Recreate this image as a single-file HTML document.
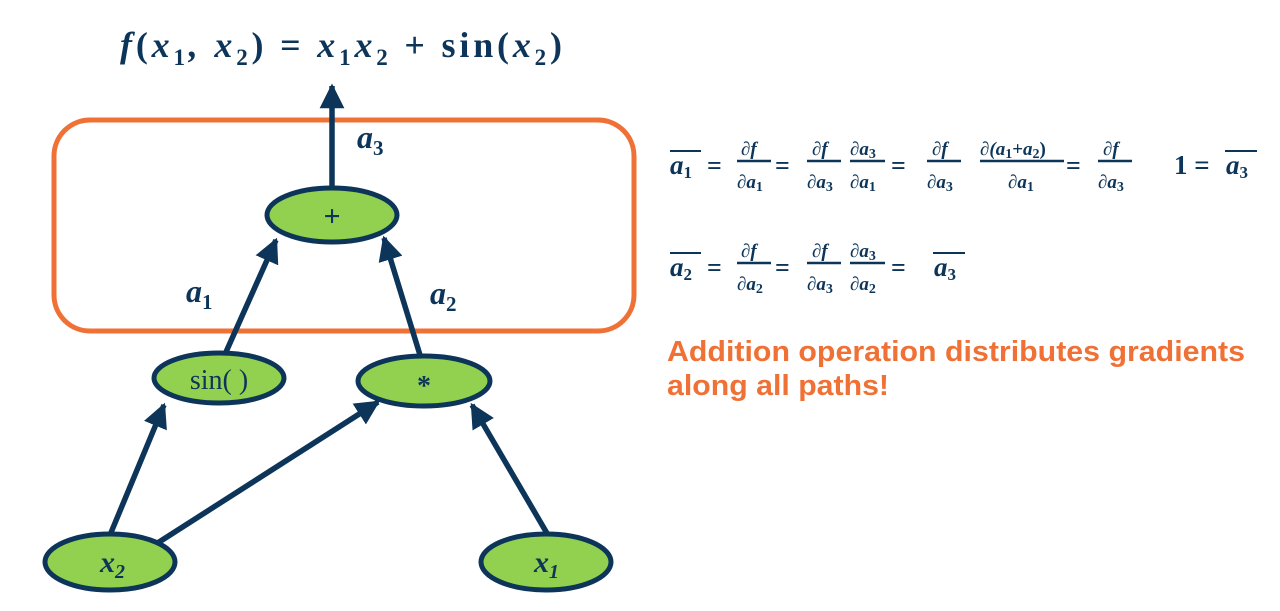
<!DOCTYPE html>
<html><head><meta charset="utf-8"><style>
body{margin:0;background:#fff;width:1280px;height:611px;overflow:hidden}
svg{display:block}
.m{font-family:"Liberation Serif",serif;font-style:italic;font-weight:bold;fill:#0C3559}
.n{font-family:"Liberation Serif",serif;font-weight:bold;fill:#0C3559}
</style></head><body>
<svg width="1280" height="611" viewBox="0 0 1280 611">
<defs>
<marker id="a" viewBox="0 0 10 10" refX="9" refY="5" markerWidth="4.5" markerHeight="4.5" orient="auto"><path d="M0,0 L10,5 L0,10 z" fill="#0C3559"/></marker></defs>
<text x="120" y="57" class="m" font-size="36" textLength="442" lengthAdjust="spacing">f<tspan class="n" font-style="normal">(</tspan>x<tspan font-size="23" dy="8" font-style="normal">1</tspan><tspan dy="-8">, x</tspan><tspan font-size="23" dy="8" font-style="normal">2</tspan><tspan dy="-8" font-style="normal">) = </tspan>x<tspan font-size="23" dy="8" font-style="normal">1</tspan><tspan dy="-8">x</tspan><tspan font-size="23" dy="8" font-style="normal">2</tspan><tspan dy="-8" font-style="normal"> + sin(</tspan>x<tspan font-size="23" dy="8" font-style="normal">2</tspan><tspan dy="-8" font-style="normal">)</tspan></text>
<rect x="54" y="120" width="580" height="211" rx="36" fill="none" stroke="#F07135" stroke-width="5"/>
<g stroke="#0C3559" stroke-width="5.5" fill="none" marker-end="url(#a)">
<line x1="332" y1="190" x2="332" y2="86"/>
<line x1="226" y1="352" x2="276" y2="240"/>
<line x1="420" y1="355" x2="384" y2="238"/>
<line x1="110" y1="535" x2="164" y2="405"/>
<line x1="156" y1="544" x2="378" y2="402"/>
<line x1="548" y1="535" x2="472" y2="405"/>
</g>
<g fill="#92D050" stroke="#0C3559" stroke-width="5">
<ellipse cx="332" cy="215" rx="65" ry="27"/>
<ellipse cx="219" cy="378" rx="65" ry="25"/>
<ellipse cx="424" cy="381" rx="66" ry="25"/>
<ellipse cx="110" cy="562" rx="65" ry="28"/>
<ellipse cx="546" cy="562" rx="65" ry="28"/>
</g>
<text x="332" y="226" class="n" font-size="30" text-anchor="middle" font-weight="normal">+</text>
<text x="219" y="389" font-family="Liberation Serif,serif" fill="#0C3559" font-size="28" text-anchor="middle">sin( )</text>
<text x="424" y="395" class="n" font-size="28" text-anchor="middle">*</text>
<text x="100" y="572" class="m" font-size="30" font-weight="normal">x<tspan font-size="20" dy="6">2</tspan></text>
<text x="534" y="572" class="m" font-size="30" font-weight="normal">x<tspan font-size="20" dy="6">1</tspan></text>
<text x="357" y="148" class="m" font-size="32">a<tspan font-size="21" dy="7" font-style="normal">3</tspan></text>
<text x="186" y="302" class="m" font-size="32">a<tspan font-size="21" dy="7" font-style="normal">1</tspan></text>
<text x="430" y="304" class="m" font-size="32">a<tspan font-size="21" dy="7" font-style="normal">2</tspan></text>
<g class="m" font-size="27">
<line x1="670" y1="151" x2="701" y2="151" stroke="#0C3559" stroke-width="2"/>
<text x="670" y="174">a<tspan font-size="17" dy="4" font-style="normal">1</tspan></text>
<text x="707" y="174" font-style="normal" font-size="26">=</text>
<g font-size="19">
<text x="741" y="155">∂f</text><line x1="737" y1="161" x2="771" y2="161" stroke="#0C3559" stroke-width="2.5"/><text x="737" y="188">∂a<tspan font-size="14" dy="3" font-style="normal">1</tspan></text>
<text x="775" y="174" font-size="26" font-style="normal">=</text>
<text x="812" y="155">∂f</text><line x1="807" y1="161" x2="841" y2="161" stroke="#0C3559" stroke-width="2.5"/><text x="807" y="188">∂a<tspan font-size="14" dy="3" font-style="normal">3</tspan></text>
<text x="850" y="155">∂a<tspan font-size="14" dy="3" font-style="normal">3</tspan></text><line x1="850" y1="161" x2="885" y2="161" stroke="#0C3559" stroke-width="2.5"/><text x="850" y="188">∂a<tspan font-size="14" dy="3" font-style="normal">1</tspan></text>
<text x="891" y="174" font-size="26" font-style="normal">=</text>
<text x="932" y="155">∂f</text><line x1="927" y1="161" x2="961" y2="161" stroke="#0C3559" stroke-width="2.5"/><text x="927" y="188">∂a<tspan font-size="14" dy="3" font-style="normal">3</tspan></text>
<text x="980" y="155">∂(a<tspan font-size="14" dy="3" font-style="normal">1</tspan><tspan dy="-3" font-style="normal">+</tspan>a<tspan font-size="14" dy="3" font-style="normal">2</tspan><tspan dy="-3" font-style="normal">)</tspan></text><line x1="980" y1="161" x2="1064" y2="161" stroke="#0C3559" stroke-width="2.5"/><text x="1008" y="188">∂a<tspan font-size="14" dy="3" font-style="normal">1</tspan></text>
<text x="1066" y="174" font-size="26" font-style="normal">=</text>
<text x="1103" y="155">∂f</text><line x1="1098" y1="161" x2="1132" y2="161" stroke="#0C3559" stroke-width="2.5"/><text x="1098" y="188">∂a<tspan font-size="14" dy="3" font-style="normal">3</tspan></text>
</g>
<text x="1174" y="174" font-style="normal">1 =</text>
<line x1="1225" y1="151" x2="1257" y2="151" stroke="#0C3559" stroke-width="2"/>
<text x="1226" y="174">a<tspan font-size="17" dy="4" font-style="normal">3</tspan></text>

<line x1="670" y1="253" x2="701" y2="253" stroke="#0C3559" stroke-width="2"/>
<text x="670" y="276">a<tspan font-size="17" dy="4" font-style="normal">2</tspan></text>
<text x="707" y="276" font-style="normal" font-size="26">=</text>
<g font-size="19">
<text x="741" y="257">∂f</text><line x1="737" y1="263" x2="771" y2="263" stroke="#0C3559" stroke-width="2.5"/><text x="737" y="290">∂a<tspan font-size="14" dy="3" font-style="normal">2</tspan></text>
<text x="775" y="276" font-size="26" font-style="normal">=</text>
<text x="812" y="257">∂f</text><line x1="807" y1="263" x2="841" y2="263" stroke="#0C3559" stroke-width="2.5"/><text x="807" y="290">∂a<tspan font-size="14" dy="3" font-style="normal">3</tspan></text>
<text x="850" y="257">∂a<tspan font-size="14" dy="3" font-style="normal">3</tspan></text><line x1="850" y1="263" x2="885" y2="263" stroke="#0C3559" stroke-width="2.5"/><text x="850" y="290">∂a<tspan font-size="14" dy="3" font-style="normal">2</tspan></text>
<text x="891" y="276" font-size="26" font-style="normal">=</text>
</g>
<line x1="933" y1="253" x2="965" y2="253" stroke="#0C3559" stroke-width="2"/>
<text x="934" y="276">a<tspan font-size="17" dy="4" font-style="normal">3</tspan></text>
</g>
<g font-family="Liberation Sans,sans-serif" font-weight="bold" font-size="29" fill="#F07135">
<text x="667" y="361" textLength="578" lengthAdjust="spacingAndGlyphs">Addition operation distributes gradients</text>
<text x="667" y="395" textLength="222" lengthAdjust="spacingAndGlyphs">along all paths!</text>
</g>
</svg>
</body></html>
